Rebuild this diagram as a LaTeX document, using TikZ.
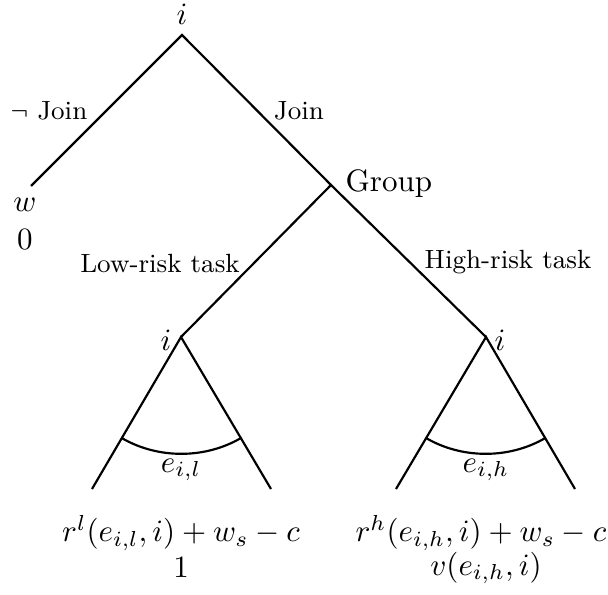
\documentclass[tikz,border=0pt]{standalone}
\usetikzlibrary{calc}
\begin{document}
\begin{tikzpicture}[x=0.3226pt,y=-0.3226pt,
  edge/.style={line width=0.7pt},
  elbl/.style={font=\fontsize{8.5}{10}\selectfont, inner sep=0pt},
  mlbl/.style={inner sep=0pt}]
\useasboundingbox (0,0) rectangle (608,595);
% decision points
\coordinate (root) at (182,35);
\coordinate (lf) at (31,186);
\coordinate (grp) at (331,185);
\coordinate (li) at (181,337);
\coordinate (ri) at (486,337);
\coordinate (lla) at (92,489);
\coordinate (llb) at (271,489);
\coordinate (rla) at (396,489);
\coordinate (rlb) at (575,489);
% labels
\node[mlbl, anchor=south] (rootlbl) at ($(root)+(0,-10)$) {$i$};
\node[mlbl] (wlbl) at (25,205) {$w$};
\node[mlbl] (zlbl) at (25,240) {$0$};
\node[mlbl, anchor=west] (grplbl) at (345,184) {Group};
\node[mlbl] (lilbl) at (166,340) {$i$};
\node[mlbl] (rilbl) at (500,340) {$i$};
\node[elbl] (njoin) at (49,111) {$\neg$ Join};
\node[elbl] (join) at (299,111) {Join};
\node[elbl] (low) at (160,264) {Low-risk task};
\node[elbl] (high) at (508,262) {High-risk task};
\node[mlbl] (el) at (181,470) {$e_{i,l}$};
\node[mlbl] (eh) at (486,470) {$e_{i,h}$};
\node[mlbl] (pl1) at (181,533) {$r^l(e_{i,l},i)+w_s-c$};
\node[mlbl] (pl2) at (181,568) {$1$};
\node[mlbl] (ph1) at (481,533) {$r^h(e_{i,h},i)+w_s-c$};
\node[mlbl] (ph2) at (486,568) {$v(e_{i,h},i)$};
% edges
\draw[edge] (lf) -- (root) -- (grp) -- (ri);
\draw[edge] (grp) -- (li);
\draw[edge] (lla) -- (li) -- (llb);
\draw[edge] (rla) -- (ri) -- (rlb);
% effort arcs
\draw[edge] ($(li)!0.665!(lla)$) coordinate (la1)
  .. controls ($(la1)+(36,21)$) and ($(li)!0.665!(llb)+(-36,21)$) .. ($(li)!0.665!(llb)$);
\draw[edge] ($(ri)!0.665!(rla)$) coordinate (ra1)
  .. controls ($(ra1)+(36,21)$) and ($(ri)!0.665!(rlb)+(-36,21)$) .. ($(ri)!0.665!(rlb)$);
\end{tikzpicture}
\end{document}
